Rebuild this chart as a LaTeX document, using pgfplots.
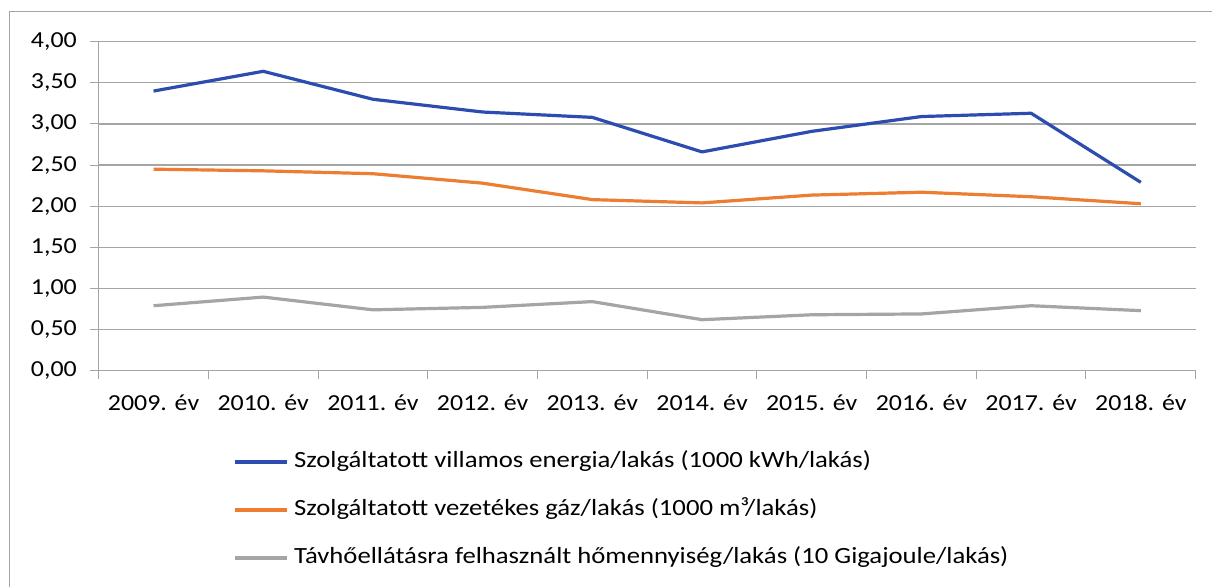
\documentclass[border=0pt]{standalone}
\usepackage{pgfplots}
\pgfplotsset{compat=1.18}
\usepackage{fontspec}
\setmainfont{Carlito}[FakeStretch=1.13]
\newfontfamily\legfont{Carlito}[FakeStretch=1.15]
\definecolor{cblue}{RGB}{44,76,176}
\definecolor{corange}{RGB}{237,125,49}
\definecolor{cgray}{RGB}{165,165,165}
\definecolor{gridgray}{RGB}{165,165,165}
\begin{document}
\begin{tikzpicture}
\useasboundingbox (0,0) rectangle (1212bp,587bp);
\draw[gridgray, line width=1bp] (9bp,0) -- (9bp,575bp) -- (1212bp,575bp);
\begin{axis}[
  at={(98.7bp,216.3bp)}, anchor=south west,
  scale only axis, width=1097bp, height=329bp,
  xmin=-0.5, xmax=9.5, ymin=0, ymax=4,
  axis lines*=left,
  axis line style={gridgray, line width=1bp},
  xtick={0,...,9},
  xticklabels={2009. év,2010. év,2011. év,2012. év,2013. év,2014. év,2015. év,2016. év,2017. év,2018. év},
  minor xtick={-0.5,0.5,...,9.5},
  ytick={0,0.5,...,4},
  tick align=outside,
  major tick length=8.4bp, minor tick length=8.7bp,
  x tick style={draw=none},
  minor x tick style={draw=gridgray, line width=1bp},
  y tick style={gridgray, line width=1bp},
  ymajorgrids, grid style={gridgray, line width=1.2bp},
  tick label style={font=\fontsize{23}{27}\selectfont, text=black},
  xticklabel style={yshift=-12bp},
  yticklabel style={xshift=-10bp},
  /pgf/number format/.cd, fixed, fixed zerofill, precision=2, use comma, assume math mode=true,
  /pgfplots/.cd,
  legend style={at={(0.1222,-0.4234)}, anchor=west, draw=none, fill=none, inner sep=0pt,
    font=\legfont\fontsize{23.3}{27}\selectfont, row sep=27bp,
    nodes={inner sep=0pt, text height=16bp, text depth=5bp}},
  legend cell align=left,
  legend image code/.code={\draw[#1] (0bp,0bp) -- (52bp,0bp); \path (58bp,0bp);},
  every axis plot/.append style={line width=3.2bp, line join=round},
]
\addplot[cblue] coordinates {(0,3.40) (1,3.64) (2,3.30) (3,3.145) (4,3.08) (5,2.66) (6,2.91) (7,3.09) (8,3.13) (9,2.29)};
\addlegendentry{Szolgáltatott villamos energia/lakás (1000 kWh/lakás)}
\addplot[corange] coordinates {(0,2.45) (1,2.43) (2,2.395) (3,2.28) (4,2.08) (5,2.04) (6,2.135) (7,2.17) (8,2.115) (9,2.03)};
\addlegendentry{Szolgáltatott vezetékes gáz/lakás (1000 m³/lakás)}
\addplot[cgray] coordinates {(0,0.79) (1,0.895) (2,0.74) (3,0.77) (4,0.84) (5,0.62) (6,0.68) (7,0.69) (8,0.79) (9,0.73)};
\addlegendentry{Távhőellátásra felhasznált hőmennyiség/lakás (10 Gigajoule/lakás)}
\end{axis}
\end{tikzpicture}
\end{document}
